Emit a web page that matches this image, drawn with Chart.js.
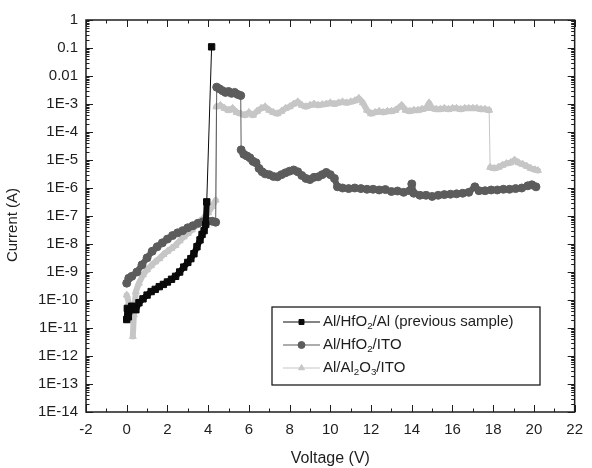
<!DOCTYPE html>
<html>
<head>
<meta charset="utf-8">
<script src="https://cdn.jsdelivr.net/npm/chart.js@4.4.1/dist/chart.umd.min.js"></script>
<style>
  html, body { margin: 0; padding: 0; background: #fff; }
</style>
</head>
<body>
<canvas id="chart" width="592" height="468"></canvas>
<script>
// series names (₂ / ₃ are drawn as subscripts in the legend)
const seriesNames = ["Al/HfO₂/Al (previous sample)", "Al/HfO₂/ITO", "Al/Al₂O₃/ITO"];
const seriesColors = ["#0a0a0a", "#5c5c5c", "#c6c6c6"];

// Al/HfO2/Al (previous sample)
const blackV = [0.00, 0.03, 0.08, 0.25, 0.45, 0.60, 0.80, 1.00, 1.20, 1.40, 1.60, 1.80, 2.00, 2.20, 2.40,
  2.60, 2.80, 3.00, 3.15, 3.30, 3.45, 3.60, 3.70, 3.80, 3.88, 3.93, 4.17];
const blackI = [2.0e-11, 5.0e-11, 2.5e-11, 6.0e-11, 4.5e-11, 8.0e-11, 1.1e-10, 1.5e-10, 2.0e-10, 2.4e-10, 3.0e-10, 3.6e-10, 4.4e-10, 5.5e-10, 7.0e-10,
  1.0e-9, 1.5e-9, 2.2e-9, 3.0e-9, 4.5e-9, 8.0e-9, 1.4e-8, 2.2e-8, 3.0e-8, 5.0e-8, 3.2e-7, 1.1e-1];

// Al/HfO2/ITO
const hfoV = [0.00, 0.10, 0.25, 0.50, 0.75, 1.00, 1.25, 1.50, 1.75, 2.00, 2.25, 2.50, 2.75, 3.00, 3.25, 3.50, 3.75, 4.00, 4.20, 4.37,
  4.42, 4.55, 4.70, 4.85, 5.00, 5.15, 5.30, 5.45, 5.60,
  5.62, 5.75, 5.90, 6.05, 6.20, 6.35, 6.50, 6.65, 6.80, 7.00, 7.20, 7.40, 7.60, 7.80, 8.00, 8.20, 8.40, 8.60, 8.80, 9.00,
  9.20, 9.40, 9.60, 9.80, 10.00, 10.20, 10.35, 10.60, 10.90, 11.20, 11.50, 11.80, 12.10, 12.40, 12.70, 13.00, 13.30, 13.60,
  13.90, 14.00, 14.10, 14.40, 14.70, 15.00, 15.30, 15.60, 15.90, 16.20, 16.50, 16.80, 17.10, 17.30, 17.60, 17.90, 18.20,
  18.50, 18.80, 19.10, 19.40, 19.70, 19.90, 20.10];
const hfoI = [4.0e-10, 6.0e-10, 7.0e-10, 1.0e-9, 1.8e-9, 3.2e-9, 5.5e-9, 8.0e-9, 1.1e-8, 1.5e-8, 2.0e-8, 2.5e-8, 3.0e-8, 3.8e-8, 4.5e-8, 5.5e-8, 6.2e-8, 6.5e-8, 6.5e-8, 6.0e-8,
  4.0e-3, 3.5e-3, 3.0e-3, 2.6e-3, 2.8e-3, 2.4e-3, 2.6e-3, 2.2e-3, 2.0e-3,
  2.3e-5, 1.6e-5, 1.4e-5, 1.2e-5, 9.0e-6, 8.0e-6, 5.0e-6, 3.8e-6, 3.2e-6, 3.0e-6, 2.6e-6, 2.5e-6, 3.0e-6, 3.5e-6, 4.0e-6, 4.4e-6, 3.8e-6, 2.8e-6, 2.2e-6, 2.0e-6,
  2.4e-6, 2.5e-6, 3.0e-6, 3.6e-6, 3.0e-6, 2.2e-6, 1.1e-6, 1.0e-6, 9.5e-7, 1.0e-6, 9.5e-7, 9.0e-7, 9.0e-7, 8.5e-7, 8.8e-7, 7.5e-7, 7.8e-7, 7.0e-7,
  8.0e-7, 1.4e-6, 6.5e-7, 5.5e-7, 5.5e-7, 5.0e-7, 5.5e-7, 5.8e-7, 6.0e-7, 6.2e-7, 6.5e-7, 7.0e-7, 1.1e-6, 8.0e-7, 8.0e-7, 8.5e-7, 8.5e-7,
  9.0e-7, 9.0e-7, 9.5e-7, 1.0e-6, 1.2e-6, 1.3e-6, 1.1e-6];

// Al/Al2O3/ITO
const aloV = [0.00, 0.10, 0.30, 0.35, 0.45, 0.60, 0.80, 1.00, 1.20, 1.40, 1.60, 1.80, 2.00, 2.20, 2.40, 2.60, 2.80, 3.00,
  3.20, 3.40, 3.60, 3.80, 4.00, 4.20, 4.37,
  4.40, 4.60, 4.80, 5.00, 5.20, 5.40, 5.60, 5.80, 6.00, 6.20, 6.40, 6.60, 6.80, 7.00, 7.20, 7.40, 7.60, 7.80, 8.00, 8.20,
  8.40, 8.60, 8.80, 9.00, 9.20, 9.40, 9.60, 9.80, 10.00, 10.20, 10.40, 10.60, 10.80, 11.00, 11.20, 11.40, 11.60, 11.80,
  12.00, 12.20, 12.40, 12.60, 12.80, 13.00, 13.20, 13.50, 13.70, 13.90, 14.10, 14.30, 14.50, 14.70, 14.85, 15.00, 15.20,
  15.40, 15.60, 15.80, 16.00, 16.20, 16.40, 16.60, 16.80, 17.00, 17.20, 17.40, 17.60, 17.80,
  17.85, 18.05, 18.25, 18.45, 18.65, 18.85, 19.05, 19.25, 19.45, 19.65, 19.85, 20.05, 20.20];
const aloI = [1.5e-10, 8.0e-11, 5.0e-12, 3.0e-11, 2.0e-10, 4.0e-10, 8.0e-10, 1.2e-9, 1.7e-9, 2.3e-9, 3.0e-9, 4.2e-9, 5.5e-9, 7.0e-9, 9.0e-9, 1.3e-8, 1.8e-8, 2.4e-8,
  3.2e-8, 4.5e-8, 6.5e-8, 9.0e-8, 1.3e-7, 2.2e-7, 3.7e-7,
  8.0e-4, 9.0e-4, 7.0e-4, 6.0e-4, 7.0e-4, 5.0e-4, 4.5e-4, 4.0e-4, 5.0e-4, 4.0e-4, 5.5e-4, 7.0e-4, 8.0e-4, 6.0e-4, 5.0e-4, 4.5e-4, 5.5e-4, 7.0e-4, 8.0e-4, 1.0e-3,
  1.2e-3, 9.0e-4, 8.0e-4, 9.0e-4, 1.0e-3, 9.0e-4, 9.5e-4, 1.0e-3, 1.1e-3, 1.0e-3, 1.1e-3, 1.2e-3, 1.1e-3, 1.2e-3, 1.3e-3, 1.6e-3, 1.1e-3, 6.0e-4,
  4.5e-4, 5.0e-4, 5.5e-4, 5.0e-4, 5.5e-4, 5.5e-4, 6.0e-4, 9.0e-4, 6.0e-4, 5.5e-4, 6.0e-4, 6.0e-4, 6.5e-4, 7.0e-4, 1.1e-3, 7.0e-4, 6.5e-4,
  6.5e-4, 7.0e-4, 6.5e-4, 7.0e-4, 7.0e-4, 6.5e-4, 7.0e-4, 7.0e-4, 7.0e-4, 7.0e-4, 6.5e-4, 6.5e-4, 6.0e-4,
  5.5e-6, 5.0e-6, 5.5e-6, 6.5e-6, 7.5e-6, 8.0e-6, 1.0e-5, 8.0e-6, 7.0e-6, 6.0e-6, 5.0e-6, 4.5e-6, 4.2e-6];

// axes
const yTickValues = [1e-14, 1e-13, 1e-12, 1e-11, 1e-10, 1e-9, 1e-8, 1e-7, 1e-6, 1e-5, 1e-4, 1e-3, 1e-2, 1e-1, 1];
const yTickLabels = ["1E-14", "1E-13", "1E-12", "1E-11", "1E-10", "1E-9", "1E-8", "1E-7", "1E-6", "1E-5", "1E-4", "1E-3", "0.01", "0.1", "1"];

const FONT = "'Liberation Sans', Arial, sans-serif";
const INK = "#1e1e1e";

function toPoints(xs, ys) {
  return xs.map((v, i) => ({ x: v, y: ys[i] }));
}

// thin connecting line for the switching jumps, thick band elsewhere
function segWidth(ctx) {
  const d = Math.abs(Math.log10(ctx.p1.parsed.y) - Math.log10(ctx.p0.parsed.y));
  return d > 1 ? 1 : 6;
}

function makeSet(i, data, style, radius) {
  return {
    label: seriesNames[i],
    data,
    showLine: true,
    borderColor: seriesColors[i],
    backgroundColor: seriesColors[i],
    borderWidth: 6,
    borderJoinStyle: "round",
    borderCapStyle: "round",
    pointStyle: style,
    pointRadius: radius,
    pointBorderWidth: 1,
    pointBorderColor: seriesColors[i],
    pointBackgroundColor: seriesColors[i],
    segment: { borderWidth: segWidth }
  };
}

// draws a label, turning ₂ / ₃ into lowered small digits
function drawRich(ctx, text, x, y, size) {
  const subs = { "₂": "2", "₃": "3" };
  for (const ch of text) {
    if (subs[ch]) {
      ctx.font = `${size * 0.65}px ${FONT}`;
      ctx.fillText(subs[ch], x, y + size * 0.3);
      x += ctx.measureText(subs[ch]).width;
    } else {
      ctx.font = `${size}px ${FONT}`;
      ctx.fillText(ch, x, y);
      x += ctx.measureText(ch).width;
    }
  }
}

const framePlugin = {
  id: "frame",
  afterDatasetsDraw(chart) {
    const { ctx, chartArea: a, scales: { x, y } } = chart;
    ctx.save();
    ctx.strokeStyle = INK;
    ctx.lineWidth = 1;
    ctx.beginPath();
    for (let v = -2; v <= 22; v++) {
      const px = Math.round(x.getPixelForValue(v)) + 0.5;
      const len = v % 2 === 0 ? 7 : 3.5;
      ctx.moveTo(px, a.bottom); ctx.lineTo(px, a.bottom - len);
      ctx.moveTo(px, a.top); ctx.lineTo(px, a.top + len);
    }
    for (let d = -14; d <= 0; d++) {
      for (let m = 1; m <= 9; m++) {
        if (d === 0 && m > 1) break;
        const py = Math.round(y.getPixelForValue(m * Math.pow(10, d))) + 0.5;
        const len = m === 1 ? 7 : 3.5;
        ctx.moveTo(a.left, py); ctx.lineTo(a.left + len, py);
        ctx.moveTo(a.right, py); ctx.lineTo(a.right - len, py);
      }
    }
    ctx.stroke();
    ctx.lineWidth = 1.5;
    ctx.strokeRect(a.left, a.top, a.right - a.left, a.bottom - a.top);

    // y axis title
    ctx.save();
    ctx.translate(13, 225);
    ctx.rotate(-Math.PI / 2);
    ctx.fillStyle = INK;
    ctx.font = `15px ${FONT}`;
    ctx.textAlign = "center";
    ctx.textBaseline = "middle";
    ctx.fillText("Current (A)", 0, 0);
    ctx.restore();

    // legend
    const lx = 272, ly = 307, lw = 268, lh = 78;
    ctx.fillStyle = "#fff";
    ctx.fillRect(lx, ly, lw, lh);
    ctx.lineWidth = 1.3;
    ctx.strokeRect(lx, ly, lw, lh);
    const rows = [322, 345, 368];
    chart.data.datasets.forEach((ds, i) => {
      const ry = rows[i];
      ctx.strokeStyle = ds.borderColor;
      ctx.lineWidth = 1.2;
      ctx.beginPath();
      ctx.moveTo(283, ry); ctx.lineTo(320, ry);
      ctx.stroke();
      ctx.fillStyle = ds.pointBackgroundColor;
      ctx.strokeStyle = ds.pointBorderColor;
      ctx.lineWidth = 1;
      Chart.helpers.drawPoint(ctx, { pointStyle: ds.pointStyle, radius: 3.5, rotation: 0, borderWidth: 1 }, 301.5, ry);
      ctx.fillStyle = INK;
      ctx.textBaseline = "middle";
      ctx.textAlign = "left";
      drawRich(ctx, ds.label, 323, ry, 15);
    });
    ctx.restore();
  }
};

new Chart(document.getElementById("chart"), {
  type: "scatter",
  data: {
    datasets: [
      makeSet(0, toPoints(blackV, blackI), "rect", 4.5),
      makeSet(1, toPoints(hfoV, hfoI), "circle", 4),
      makeSet(2, toPoints(aloV, aloI), "triangle", 4)
    ]
  },
  options: {
    responsive: false,
    animation: false,
    layout: { padding: { left: 0, top: 20, right: 11, bottom: 0 } },
    plugins: { legend: { display: false }, tooltip: { enabled: false } },
    scales: {
      x: {
        type: "linear",
        min: -2,
        max: 22,
        afterFit: (s) => { s.height = 56; },
        ticks: { stepSize: 2, padding: 9, color: INK, font: { family: FONT, size: 15 } },
        grid: { display: false, drawTicks: false },
        border: { display: false },
        title: { display: true, text: "Voltage (V)", color: INK, font: { family: FONT, size: 16 }, padding: { top: 0, bottom: 0 } }
      },
      y: {
        type: "logarithmic",
        min: 1e-14,
        max: 1,
        afterFit: (s) => { s.width = 86; },
        afterBuildTicks: (s) => { s.ticks = yTickValues.map(v => ({ value: v })); },
        ticks: {
          autoSkip: false,
          padding: 8,
          color: INK,
          font: { family: FONT, size: 15 },
          callback: (v) => yTickLabels[yTickValues.indexOf(v)]
        },
        grid: { display: false, drawTicks: false },
        border: { display: false }
      }
    }
  },
  plugins: [framePlugin]
});
</script>
</body>
</html>
